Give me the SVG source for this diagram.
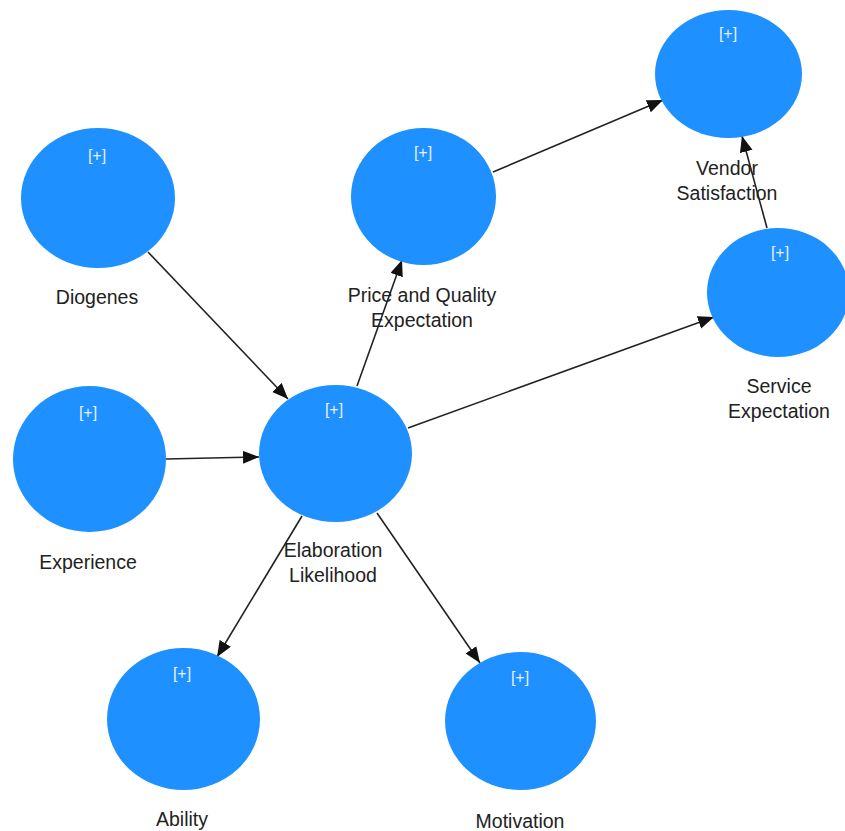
<svg xmlns="http://www.w3.org/2000/svg" width="845" height="831" viewBox="0 0 845 831">
<style>
.n{fill:#1E90FF;}
.p{font-family:"Liberation Sans",Arial,sans-serif;font-size:16px;fill:#e6f0ff;text-anchor:middle;}
.l{font-family:"Liberation Sans",Arial,sans-serif;font-size:19.5px;fill:#222;text-anchor:middle;}
.c line{stroke:#222;stroke-width:1.6;marker-end:url(#ah);}
</style>
<defs>
<marker id="ah" markerUnits="userSpaceOnUse" markerWidth="18" markerHeight="14" refX="16" refY="6.5" orient="auto">
<path d="M0,0 L16,6.5 L0,13 z" fill="#111"/>
</marker>
</defs>
<rect width="845" height="831" fill="#fff"/>
<g id="connectors" class="c">
<line x1="148" y1="252" x2="288" y2="399"/>
<line x1="166" y1="459" x2="259" y2="457"/>
<line x1="357" y1="386" x2="402" y2="260"/>
<line x1="408" y1="428" x2="714" y2="317"/>
<line x1="493" y1="172" x2="663" y2="100"/>
<line x1="767" y1="228" x2="742" y2="136"/>
<line x1="302" y1="516" x2="217" y2="657"/>
<line x1="377" y1="513" x2="480" y2="663"/>
</g>
<g id="vendor">
<ellipse class="n" cx="728.5" cy="74" rx="73.5" ry="64"/>
<text class="p" x="728" y="39">[+]</text>
<text class="l" x="727" y="175">Vendor</text>
<text class="l" x="727" y="200">Satisfaction</text>
</g>
<g id="diogenes">
<ellipse class="n" cx="98" cy="198" rx="77" ry="70"/>
<text class="p" x="97" y="161">[+]</text>
<text class="l" x="97" y="304">Diogenes</text>
</g>
<g id="price">
<ellipse class="n" cx="423.5" cy="196.5" rx="72.5" ry="68.5"/>
<text class="p" x="423" y="158">[+]</text>
<text class="l" x="422" y="302">Price and Quality</text>
<text class="l" x="422" y="327">Expectation</text>
</g>
<g id="service">
<ellipse class="n" cx="778" cy="292.5" rx="71" ry="64.5"/>
<text class="p" x="780" y="258">[+]</text>
<text class="l" x="779" y="393">Service</text>
<text class="l" x="779" y="418">Expectation</text>
</g>
<g id="experience">
<ellipse class="n" cx="89.5" cy="459" rx="76.5" ry="73"/>
<text class="p" x="88" y="418">[+]</text>
<text class="l" x="88" y="569">Experience</text>
</g>
<g id="elaboration">
<ellipse class="n" cx="335.5" cy="453.5" rx="76.5" ry="68.5"/>
<text class="p" x="334" y="415">[+]</text>
<text class="l" x="333" y="557">Elaboration</text>
<text class="l" x="333" y="582">Likelihood</text>
</g>
<g id="ability">
<ellipse class="n" cx="183.5" cy="719" rx="76.5" ry="71"/>
<text class="p" x="182" y="679">[+]</text>
<text class="l" x="182" y="826">Ability</text>
</g>
<g id="motivation">
<ellipse class="n" cx="520.5" cy="721" rx="75.5" ry="69"/>
<text class="p" x="520" y="683">[+]</text>
<text class="l" x="520" y="828">Motivation</text>
</g>
</svg>
